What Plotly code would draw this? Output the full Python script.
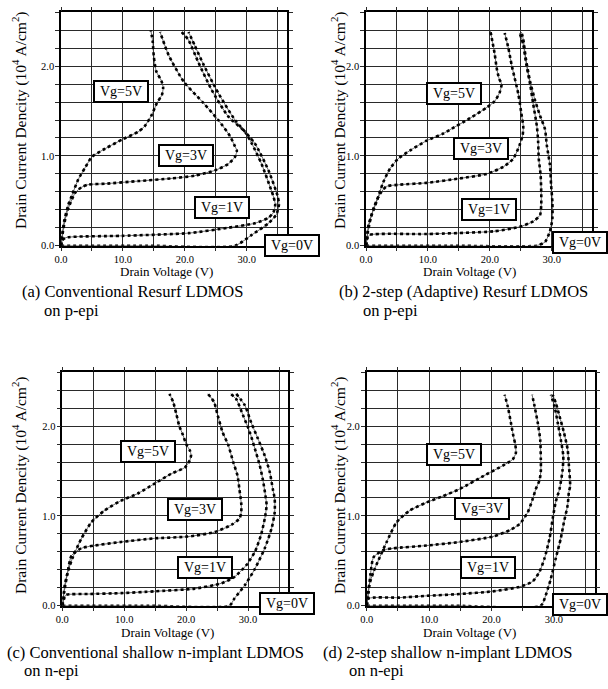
import plotly.graph_objects as go

W, H = 608, 689

# ---------------- data (V in volts, J in 10^4 A/cm^2) ----------------
# Panel (a) Conventional Resurf LDMOS on p-epi
A_VG5_V = [0, 0.2, 0.5, 1.2, 1.7, 2.8, 3.9, 5.0, 7.1, 10.1, 12.5, 13.5, 14.6, 15.5, 16.3, 16.5, 16.2, 15.4, 15.0, 14.8, 14.5]
A_VG5_J = [0, 0.12, 0.27, 0.46, 0.55, 0.74, 0.87, 0.99, 1.08, 1.19, 1.27, 1.33, 1.45, 1.59, 1.68, 1.76, 1.84, 1.94, 2.1, 2.28, 2.4]
A_VG3_V = [0, 0.3, 0.7, 1.2, 2.3, 3.3, 4.4, 7.1, 12.5, 17.9, 21.6, 24.9, 27.0, 28.1, 28.4, 28.0, 27.3, 25.4, 23.0, 19.8, 17.4, 16.0]
A_VG3_J = [0, 0.15, 0.3, 0.42, 0.59, 0.65, 0.68, 0.69, 0.72, 0.75, 0.78, 0.84, 0.91, 0.99, 1.06, 1.12, 1.22, 1.4, 1.59, 1.83, 2.12, 2.38]
A_VG1_V = [0, 0.2, 0.8, 9.8, 20.6, 27.0, 31.3, 33.5, 34.3, 34.6, 34.3, 34.0, 32.4, 30.8, 29.7, 27.0, 24.3, 22.2, 20.6, 19.5]
A_VG1_J = [0, 0.06, 0.09, 0.11, 0.14, 0.2, 0.25, 0.31, 0.37, 0.46, 0.55, 0.61, 0.91, 1.14, 1.27, 1.44, 1.74, 2.04, 2.29, 2.38]
A_VG0_V = [0, 14.0, 28.1, 30.8, 33.5, 34.8, 35.2, 35.0, 33.5, 31.3, 28.1, 25.4, 23.0, 21.6, 20.6]
A_VG0_J = [0, 0, 0, 0.12, 0.25, 0.35, 0.46, 0.55, 0.84, 1.14, 1.4, 1.7, 2.02, 2.23, 2.38]

# Panel (b) 2-step (Adaptive) Resurf LDMOS on p-epi
B_VG5_V = [0, 0.2, 0.4, 0.9, 1.7, 2.8, 3.9, 5.2, 7.1, 9.8, 12.5, 13.5, 16.8, 19.5, 20.8, 21.6, 21.9, 21.5, 21.1, 20.8, 20.4, 20.1]
B_VG5_J = [0, 0.12, 0.23, 0.34, 0.49, 0.71, 0.86, 0.97, 1.06, 1.17, 1.25, 1.29, 1.42, 1.54, 1.61, 1.71, 1.8, 1.86, 1.98, 2.13, 2.28, 2.39]
B_VG3_V = [0, 0.3, 0.8, 1.4, 2.3, 3.3, 5.5, 9.8, 15.2, 19.5, 22.2, 23.8, 24.8, 25.3, 25.4, 25.1, 24.6, 24.0, 23.5, 23.0, 22.4]
B_VG3_J = [0, 0.15, 0.32, 0.45, 0.58, 0.66, 0.68, 0.70, 0.75, 0.8, 0.88, 0.97, 1.12, 1.23, 1.33, 1.47, 1.69, 1.87, 2.02, 2.2, 2.37]
B_VG1_V = [0, 0.2, 0.6, 9.8, 20.6, 24.8, 27.0, 28.1, 28.3, 28.3, 28.2, 27.9, 27.8, 27.6, 27.0, 26.5, 25.9, 25.4, 24.8]
B_VG1_J = [0, 0.08, 0.12, 0.13, 0.16, 0.21, 0.27, 0.34, 0.45, 0.6, 0.79, 0.97, 1.16, 1.33, 1.58, 1.8, 2.02, 2.24, 2.37]
B_VG0_V = [0, 14.0, 27.5, 28.9, 29.7, 30.1, 30.1, 29.9, 29.7, 29.2, 28.9, 28.1, 27.3, 26.5, 25.8, 25.4, 25.1]
B_VG0_J = [0, 0, 0, 0.04, 0.16, 0.3, 0.49, 0.67, 0.9, 1.12, 1.3, 1.45, 1.62, 1.83, 2.09, 2.3, 2.38]

# Panel (c) Conventional shallow n-implant LDMOS on n-epi
C_VG5_V = [0, 0.2, 0.4, 0.9, 1.7, 3.1, 4.7, 6.8, 9.5, 12.2, 14.9, 17.6, 19.8, 20.6, 20.8, 20.6, 20.0, 19.5, 18.9, 18.4, 17.9, 17.3]
C_VG5_J = [0, 0.12, 0.23, 0.38, 0.54, 0.75, 0.93, 1.06, 1.17, 1.25, 1.36, 1.47, 1.54, 1.62, 1.68, 1.73, 1.8, 1.9, 2.0, 2.14, 2.27, 2.36]
C_VG3_V = [0, 0.3, 0.8, 1.5, 3.1, 5.2, 9.5, 14.9, 20.3, 24.6, 27.3, 28.6, 28.9, 28.9, 28.8, 28.6, 28.3, 27.6, 26.8, 25.9, 25.1, 24.5, 23.5]
C_VG3_J = [0, 0.15, 0.35, 0.56, 0.64, 0.67, 0.71, 0.75, 0.77, 0.82, 0.9, 0.97, 1.04, 1.14, 1.2, 1.3, 1.45, 1.6, 1.79, 1.93, 2.12, 2.27, 2.36]
C_VG1_V = [0, 0.3, 0.6, 4.2, 9.5, 14.9, 21.4, 25.7, 27.8, 29.7, 31.1, 32.1, 32.7, 33.0, 32.8, 32.4, 31.9, 31.1, 30.3, 29.2, 28.1, 27.2]
C_VG1_J = [0, 0.08, 0.12, 0.13, 0.14, 0.16, 0.19, 0.25, 0.32, 0.45, 0.6, 0.79, 0.97, 1.12, 1.23, 1.4, 1.56, 1.75, 1.93, 2.12, 2.3, 2.36]
C_VG0_V = [0, 14.0, 27.0, 27.8, 29.5, 31.1, 32.7, 33.8, 34.3, 34.3, 34.0, 33.5, 32.7, 31.6, 30.5, 29.5, 28.1]
C_VG0_J = [0, 0, 0, 0.08, 0.23, 0.41, 0.64, 0.86, 1.04, 1.19, 1.3, 1.49, 1.67, 1.86, 2.04, 2.23, 2.36]

# Panel (d) 2-step shallow n-implant LDMOS on n-epi
D_VG5_V = [0, 0.2, 0.4, 1.1, 1.9, 3.2, 4.8, 6.9, 9.6, 12.2, 14.9, 19.1, 21.8, 23.4, 23.9, 23.8, 23.5, 23.1, 22.6, 22.1]
D_VG5_J = [0, 0.12, 0.23, 0.38, 0.51, 0.71, 0.93, 1.06, 1.15, 1.22, 1.3, 1.46, 1.56, 1.63, 1.7, 1.8, 1.89, 2.04, 2.22, 2.35]
D_VG3_V = [0, 0.3, 0.6, 1.1, 2.7, 4.3, 9.6, 14.9, 20.2, 22.9, 24.5, 25.8, 26.6, 27.1, 27.7, 27.9, 27.9, 27.8, 27.4, 26.9, 26.5]
D_VG3_J = [0, 0.15, 0.35, 0.54, 0.62, 0.64, 0.67, 0.71, 0.77, 0.84, 0.91, 1.04, 1.19, 1.3, 1.4, 1.5, 1.63, 1.85, 2.04, 2.22, 2.35]
D_VG1_V = [0, 0.3, 5.3, 9.6, 14.9, 20.2, 24.5, 26.6, 27.7, 28.5, 29.3, 29.8, 30.3, 30.9, 31.4, 31.5, 31.1, 30.6, 30.1, 29.5]
D_VG1_J = [0, 0.08, 0.09, 0.11, 0.13, 0.16, 0.21, 0.27, 0.38, 0.53, 0.75, 0.97, 1.16, 1.3, 1.52, 1.67, 1.85, 2.04, 2.22, 2.35]
D_VG0_V = [0, 14.0, 27.9, 28.7, 29.5, 30.3, 31.1, 31.6, 32.2, 32.4, 32.6, 32.4, 32.2, 31.6, 30.9, 30.3, 29.8]
D_VG0_J = [0, 0, 0, 0.12, 0.3, 0.53, 0.75, 0.93, 1.12, 1.27, 1.33, 1.56, 1.74, 1.93, 2.11, 2.26, 2.35]

X_TICK_VALS = [0, 10, 20, 30]
X_TICK_TEXT = ["0.0", "10.0", "20.0", "30.0"]
Y_TICK_VALS = [0, 1, 2]
Y_TICK_TEXT = ["0.0", "1.0", "2.0"]
VG_LABELS = ["Vg=5V", "Vg=3V", "Vg=1V", "Vg=0V"]
X_TITLE = "Drain Voltage (V)"
Y_TITLE = "Drain Current Dencity (10<sup>4</sup> A/cm<sup>2</sup>)"
CAPTIONS = [
    ("(a) Conventional Resurf LDMOS", "on p-epi"),
    ("(b) 2-step (Adaptive) Resurf LDMOS", "on p-epi"),
    ("(c) Conventional shallow n-implant LDMOS", "on n-epi"),
    ("(d) 2-step shallow n-implant LDMOS", "on n-epi"),
]

PANELS = [
    [(A_VG5_V, A_VG5_J), (A_VG3_V, A_VG3_J), (A_VG1_V, A_VG1_J), (A_VG0_V, A_VG0_J)],
    [(B_VG5_V, B_VG5_J), (B_VG3_V, B_VG3_J), (B_VG1_V, B_VG1_J), (B_VG0_V, B_VG0_J)],
    [(C_VG5_V, C_VG5_J), (C_VG3_V, C_VG3_J), (C_VG1_V, C_VG1_J), (C_VG0_V, C_VG0_J)],
    [(D_VG5_V, D_VG5_J), (D_VG3_V, D_VG3_J), (D_VG1_V, D_VG1_J), (D_VG0_V, D_VG0_J)],
]

# ---------------- layout geometry (pixels) ----------------
BOXES = [(61, 287, 12.3, 245.7), (366, 592, 12.3, 245.7),
         (62.3, 288.3, 372.3, 605.7), (366.7, 594.5, 372.3, 605.7)]
LABEL_POS = [
    [(121, 92), (186, 155), (222, 208), (292, 245)],
    [(454, 93), (481, 148), (489, 210), (580, 242)],
    [(148, 452), (195, 509), (205, 567), (287, 603)],
    [(454, 454), (482, 508), (488, 567), (580, 604)],
]
YTITLE_POS = [(19, 121), (338, 121), (19, 486), (338, 486)]
XTITLE_POS = [(166, 272), (469, 272), (167, 632), (469, 632)]
CAP_POS = [((20, 292), (42, 310)), ((337, 292), (361, 310)),
           ((5, 652), (22, 670)), ((321, 652), (347, 670))]

SERIF = "Liberation Serif, Times New Roman, serif"
GRID = "#2a2a2a"


def px(x):
    return x / W


def py(y):
    return 1 - y / H


fig = go.Figure()
annotations = []
for i, (curves, box) in enumerate(zip(PANELS, BOXES)):
    n = "" if i == 0 else str(i + 1)
    xa, ya = "x" + n, "y" + n
    for v, j in curves:
        fig.add_trace(go.Scatter(x=v, y=j, xaxis=xa, yaxis=ya, mode="lines",
                                 line=dict(color="#444", width=0.8, shape="spline", smoothing=0.6),
                                 hoverinfo="skip", showlegend=False))
        fig.add_trace(go.Scatter(x=v, y=j, xaxis=xa, yaxis=ya, mode="lines",
                                 line=dict(color="black", width=2.6, dash="dot", shape="spline", smoothing=0.6),
                                 showlegend=False))
    l, r, t, b = box
    axis_common = dict(showgrid=True, gridcolor=GRID, gridwidth=1, showline=True,
                       linecolor="black", linewidth=1.5, mirror="allticks", ticks="outside",
                       ticklen=3, tickcolor=GRID, zeroline=False, automargin=False,
                       tickfont=dict(family=SERIF, size=10.5, color="black"))
    fig.layout["xaxis" + n] = dict(domain=[px(l), px(r)], range=[0, 36.5], anchor=ya,
                                   tickvals=X_TICK_VALS, ticktext=X_TICK_TEXT,
                                   minor=dict(dtick=5, tick0=0, showgrid=True, gridcolor=GRID,
                                              gridwidth=1, ticks="outside", ticklen=4, tickcolor=GRID),
                                   **axis_common)
    fig.layout["yaxis" + n] = dict(domain=[py(b), py(t)], range=[0, 2.6], anchor=xa,
                                   tickvals=Y_TICK_VALS, ticktext=Y_TICK_TEXT,
                                   minor=dict(dtick=0.2, tick0=0, showgrid=True, gridcolor=GRID,
                                              gridwidth=1, ticks="outside", ticklen=4, tickcolor=GRID),
                                   **axis_common)
    for lab, (cx, cy) in zip(VG_LABELS, LABEL_POS[i]):
        annotations.append(dict(text=lab, x=px(cx), y=py(cy), xref="paper", yref="paper",
                                showarrow=False, xanchor="center", yanchor="middle",
                                font=dict(family=SERIF, size=14, color="black"),
                                bgcolor="white", bordercolor="black", borderwidth=2,
                                borderpad=1, width=50, height=17))
    yx, yy = YTITLE_POS[i]
    annotations.append(dict(text=Y_TITLE, x=px(yx), y=py(yy), xref="paper", yref="paper",
                            showarrow=False, textangle=-90, xanchor="center", yanchor="middle",
                            font=dict(family=SERIF, size=15.5, color="black")))
    tx, ty = XTITLE_POS[i]
    annotations.append(dict(text=X_TITLE, x=px(tx), y=py(ty), xref="paper", yref="paper",
                            showarrow=False, xanchor="center", yanchor="middle",
                            font=dict(family=SERIF, size=13, color="black")))
    (c1x, c1y), (c2x, c2y) = CAP_POS[i]
    annotations.append(dict(text=CAPTIONS[i][0], x=px(c1x), y=py(c1y), xref="paper", yref="paper",
                            showarrow=False, xanchor="left", yanchor="middle",
                            font=dict(family=SERIF, size=16.5, color="black")))
    annotations.append(dict(text=CAPTIONS[i][1], x=px(c2x), y=py(c2y), xref="paper", yref="paper",
                            showarrow=False, xanchor="left", yanchor="middle",
                            font=dict(family=SERIF, size=16.5, color="black")))

fig.update_layout(width=W, height=H, margin=dict(l=0, r=0, t=0, b=0, autoexpand=False),
                  paper_bgcolor="white", plot_bgcolor="white",
                  annotations=annotations, showlegend=False)
fig.write_html("out.html", config={"displayModeBar": False},
               post_script="document.body.style.margin='0';document.body.style.padding='0';")
